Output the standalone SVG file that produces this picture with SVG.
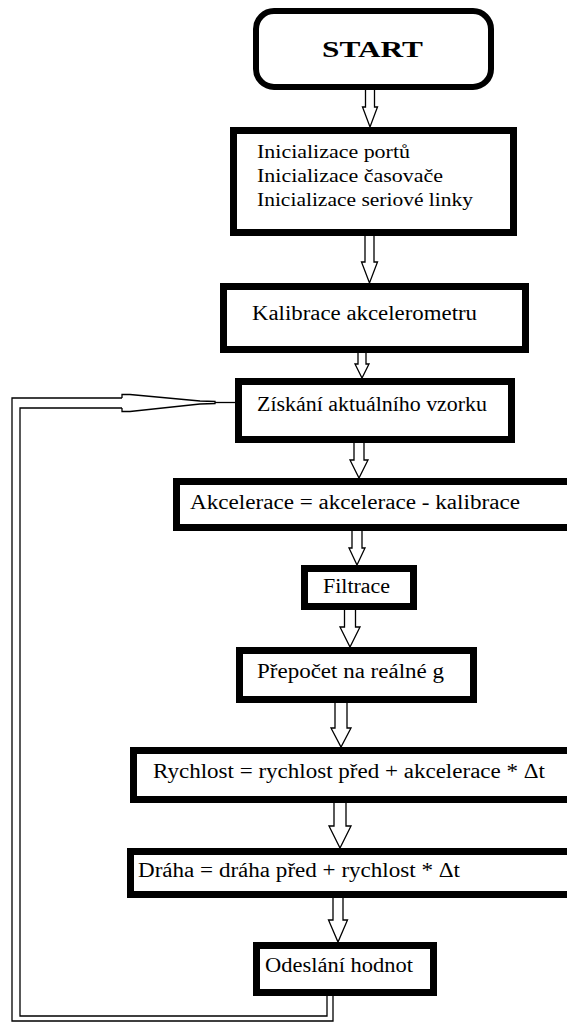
<svg xmlns="http://www.w3.org/2000/svg" width="567" height="1023" viewBox="0 0 567 1023">
<style>
.box{fill:#fff;stroke:#000;stroke-width:7}
.start{fill:#fff;stroke:#000;stroke-width:6}
.t{font-family:"Liberation Serif","DejaVu Serif","Times New Roman",serif;font-size:20px;fill:#000}
.ts{font-size:18.5px}
.tb{font-weight:bold;font-size:23px}
.arr{fill:#fff;stroke:#000;stroke-width:1.3;stroke-linejoin:miter}
.ln{fill:none;stroke:#000;stroke-width:1.3}
</style>
<rect width="567" height="1023" fill="#fff"/>
<g id="connectors">
<path class="arr" d="M365.5,90 V107 H362.5 L370,127 L377.5,107 H374.5 V90"/>
<path class="arr" d="M365,236 V262 H361.5 L369.5,283 L377.5,262 H374 V236"/>
<path class="arr" d="M358,353 V364 H355 L362,378 L369,364 H366 V353"/>
<path class="arr" d="M354,443 V460 H350 L359,478 L368,460 H364 V443"/>
<path class="arr" d="M352,531 V548 H349 L357,565 L365,548 H362 V531"/>
<path class="arr" d="M344.5,610 V627 H340 L350,647 L360,627 H355.5 V610"/>
<path class="arr" d="M335,703 V728 H331 L341,747 L351,728 H347 V703"/>
<path class="arr" d="M334,803 V826 H329 L340,848 L351,826 H346 V803"/>
<path class="arr" d="M333,898 V920 H328.5 L338,942 L347.5,920 H343 V898"/>
<path class="ln" d="M333,996 V1021 H12 V398 H122"/>
<path class="ln" d="M327,996 V1016 H20 V408 H122"/>
<path class="arr" d="M122,398 V394.5 L130,394.5 L200,401 L215,401.5 V403.5 L200,404 L130,411.5 L122,411.5 V408"/>
<path class="ln" d="M215,402.5 H236"/>
</g>
<g id="n-start">
<rect class="start" x="256" y="11" width="235" height="76" rx="18"/>
<text class="t tb" x="322" y="57" textLength="101" lengthAdjust="spacingAndGlyphs">START</text>
</g>
<g id="n-init">
<rect class="box" x="233.5" y="130.5" width="280" height="102"/>
<text class="t ts" x="257" y="158" textLength="153" lengthAdjust="spacingAndGlyphs">Inicializace portů</text>
<text class="t ts" x="257" y="182" textLength="186" lengthAdjust="spacingAndGlyphs">Inicializace časovače</text>
<text class="t ts" x="257" y="206" textLength="216" lengthAdjust="spacingAndGlyphs">Inicializace seriové linky</text>
</g>
<g id="n-kalib">
<rect class="box" x="223.5" y="286.5" width="302" height="63"/>
<text class="t" x="252" y="320" textLength="225" lengthAdjust="spacingAndGlyphs">Kalibrace akcelerometru</text>
</g>
<g id="n-ziskani">
<rect class="box" x="238.5" y="381.5" width="273" height="58"/>
<text class="t" x="257" y="411" textLength="230" lengthAdjust="spacingAndGlyphs">Získání aktuálního vzorku</text>
</g>
<g id="n-akcel">
<rect class="box" x="176.5" y="481.5" width="400" height="46"/>
<text class="t" x="190" y="509" textLength="330" lengthAdjust="spacingAndGlyphs">Akcelerace = akcelerace - kalibrace</text>
</g>
<g id="n-filtrace">
<rect class="box" x="304.5" y="568.5" width="109" height="38"/>
<text class="t" x="323" y="593" textLength="67" lengthAdjust="spacingAndGlyphs">Filtrace</text>
</g>
<g id="n-prepocet">
<rect class="box" x="239.5" y="650.5" width="234" height="49"/>
<text class="t" x="257" y="678" textLength="187" lengthAdjust="spacingAndGlyphs">Přepočet na reálné g</text>
</g>
<g id="n-rychlost">
<rect class="box" x="133.5" y="750.5" width="440" height="49"/>
<text class="t" x="153" y="778" textLength="392" lengthAdjust="spacingAndGlyphs">Rychlost = rychlost před + akcelerace * Δt</text>
</g>
<g id="n-draha">
<rect class="box" x="130.5" y="851.5" width="443" height="43"/>
<text class="t" x="138" y="877" textLength="322" lengthAdjust="spacingAndGlyphs">Dráha = dráha před + rychlost * Δt</text>
</g>
<g id="n-odeslani">
<rect class="box" x="256.5" y="945.5" width="177" height="47"/>
<text class="t" x="265" y="972" textLength="148" lengthAdjust="spacingAndGlyphs">Odeslání hodnot</text>
</g>
</svg>
